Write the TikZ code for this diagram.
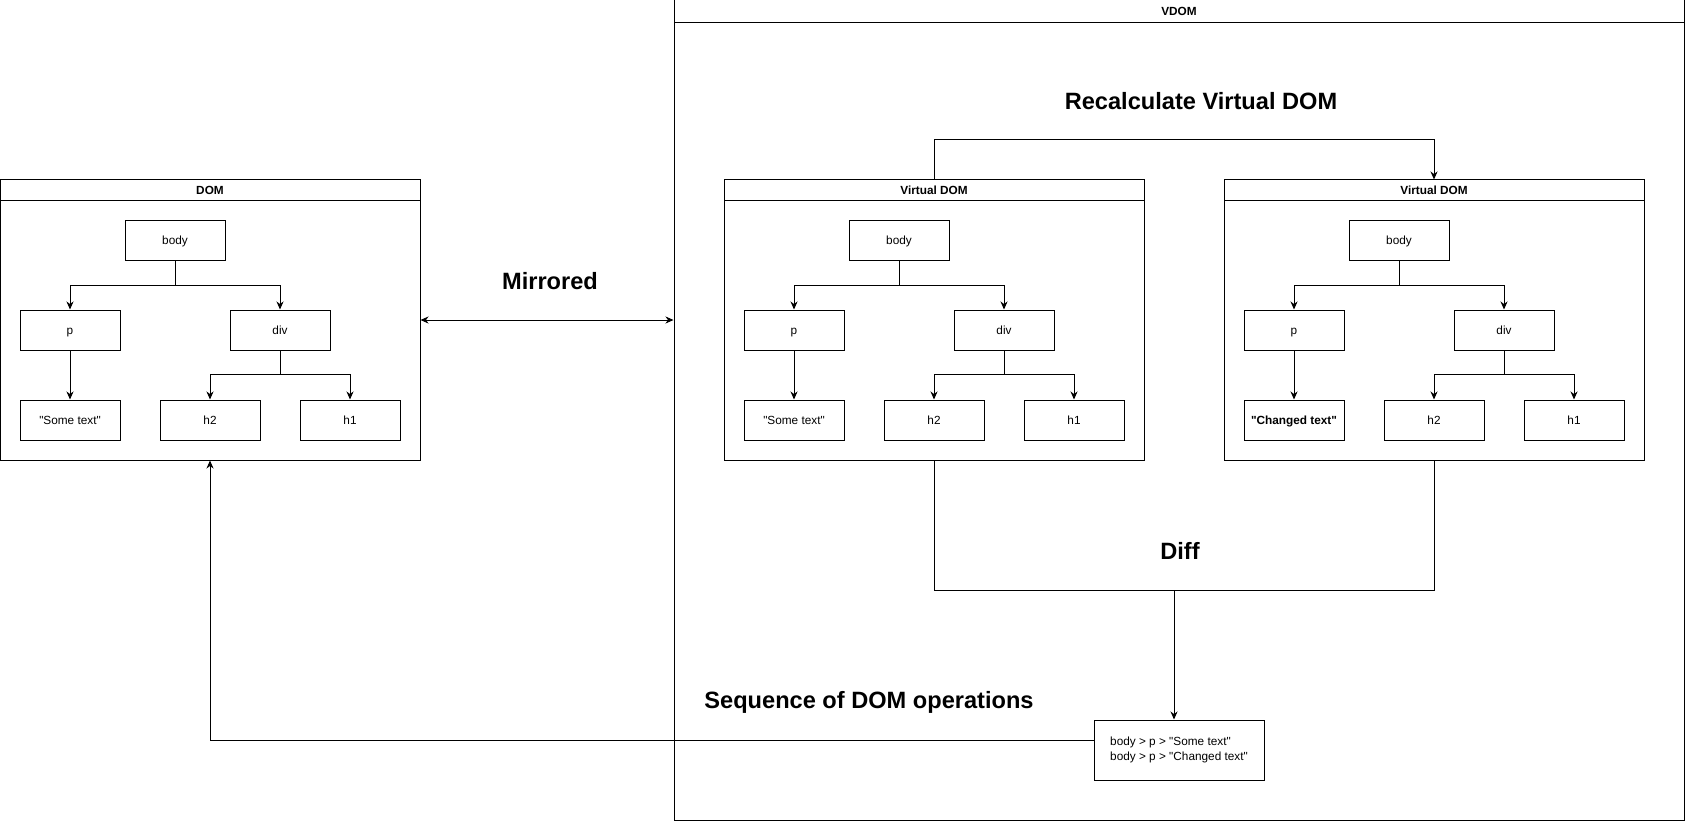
\documentclass[tikz,border=0pt]{standalone}
\usepackage{fontspec}
\setmainfont{Liberation Sans}
\usetikzlibrary{arrows.meta}

\newcommand{\qt}{\textquotedbl}

\tikzset{
  box/.style={draw, line width=1pt, minimum width=100pt, minimum height=40pt, inner sep=0pt, text height=9.5pt, text depth=0.5pt, font=\fontsize{11.8}{14}\selectfont},
  panel/.style={draw, line width=1pt, minimum width=420pt, minimum height=280pt, inner sep=0pt},
  head/.style={draw, line width=1pt, minimum width=420pt, minimum height=20pt, inner sep=0pt, anchor=north, font=\fontsize{11.8}{14}\selectfont\bfseries},
  bigtext/.style={font=\fontsize{23.6}{28}\selectfont\bfseries},
  arr/.style={line width=1pt, -{Stealth[length=8pt,width=7pt,inset=2.5pt]}},
  dblarr/.style={line width=1pt, {Stealth[length=8pt,width=7pt,inset=2.5pt]}-{Stealth[length=8pt,width=7pt,inset=2.5pt]}},
  wire/.style={line width=1pt}
}

\begin{document}
\begin{tikzpicture}[x=1pt, y=-1pt]
\useasboundingbox (0,0) rectangle (1685,821);

% outer VDOM frame
\node [panel, minimum width=1010pt, minimum height=820pt] (vdom) at (1179,410) {};
\node [head, minimum width=1010pt, minimum height=23pt] (vdomhead) at (vdom.north) {VDOM};

% the three trees
\foreach \tr/\dx/\name/\leaf in {dom/0/DOM/{\qt Some text\qt}, va/724/Virtual DOM/{\qt Some text\qt}, vb/1224/Virtual DOM/{\textbf{\qt Changed text\qt}}} {
  \node [panel] (\tr) at (210+\dx,320) {};
  \node [head] (\tr-head) at (\tr.north) {\name};
  \node [box] (\tr-body) at (175+\dx,240) {body};
  \node [box] (\tr-p) at (70+\dx,330) {p};
  \node [box] (\tr-div) at (280+\dx,330) {div};
  \node [box] (\tr-txt) at (70+\dx,420) {\leaf};
  \node [box] (\tr-h2) at (210+\dx,420) {h2};
  \node [box] (\tr-h1) at (350+\dx,420) {h1};
  \draw [arr] (\tr-body.south) -- ++(0,25) -| (\tr-p.north);
  \draw [arr] (\tr-body.south) -- ++(0,25) -| (\tr-div.north);
  \draw [arr] (\tr-p) -- (\tr-txt);
  \draw [arr] (\tr-div.south) -- ++(0,24) -| (\tr-h2.north);
  \draw [arr] (\tr-div.south) -- ++(0,24) -| (\tr-h1.north);
}

% mirrored
\draw [dblarr] (dom.east) -- (dom.east -| vdom.west);
\node [bigtext] (mirror) at (550,281) {Mirrored};

% recalculate
\draw [arr] (va.north) -- ++(0,-40) -| (vb.north);
\node [bigtext] (recalc) at (1201,101) {Recalculate Virtual DOM};

% diff
\draw [wire] (va.south) -- ++(0,130) -| (vb.south);
\node [bigtext] (diff) at (1180,551) {Diff};

\node [box, minimum width=170pt, minimum height=60pt, align=left, text height=, text depth=, font=\fontsize{11.8}{15}\selectfont] (ops) at (1179,750) {body > p > \qt Some text\qt\\body > p > \qt Changed text\qt};
\coordinate (diffout) at (1174,590);
\draw [arr] (diffout) -- (diffout |- ops.north);

\draw [arr] ([yshift=10pt]ops.west) -| (dom.south);
\node [bigtext] (seq) at (869,702) {Sequence of DOM operations};
\end{tikzpicture}
\end{document}
